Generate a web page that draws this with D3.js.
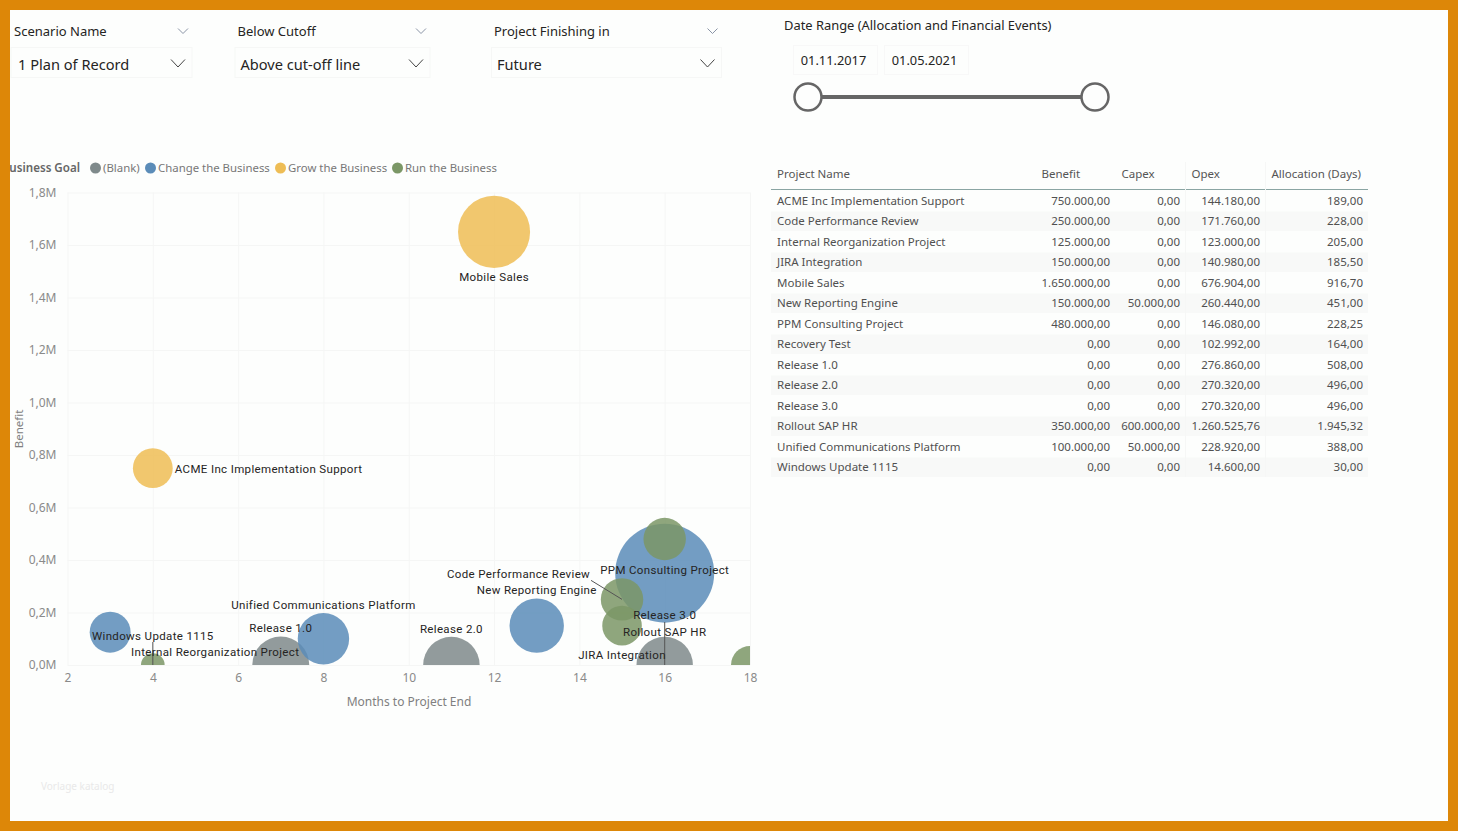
<!DOCTYPE html>
<html>
<head>
<meta charset="utf-8">
<script src="https://cdn.jsdelivr.net/npm/d3@7"></script>
<style>
html,body{margin:0;padding:0;background:#fdfefd;}
svg{display:block;}
text{font-family:"Noto Sans",sans-serif;}
</style>
</head>
<body>
<div id="chart"></div>
<script>
const projects = ["ACME Inc Implementation Support","Code Performance Review","Internal Reorganization Project","JIRA Integration","Mobile Sales","New Reporting Engine","PPM Consulting Project","Recovery Test","Release 1.0","Release 2.0","Release 3.0","Rollout SAP HR","Unified Communications Platform","Windows Update 1115"];
const benefit = [750000,250000,125000,150000,1650000,150000,480000,0,0,0,0,350000,100000,0];
const capex = [0,0,0,0,0,50000,0,0,0,0,0,600000,50000,0];
const opex = [144180,171760,123000,140980,676904,260440,146080,102992,276860,270320,270320,1260525.76,228920,14600];
const allocation = [189,228,205,185.5,916.7,451,228.25,164,508,496,496,1945.32,388,30];
const months = [4,15,3,15,12,13,16,18,7,11,16,16,8,4];
const goals = ["Grow the Business","Run the Business","Change the Business","Run the Business","Grow the Business","Change the Business","Run the Business","Run the Business","(Blank)","(Blank)","(Blank)","Change the Business","Change the Business","Run the Business"];

const goalNames = ["(Blank)","Change the Business","Grow the Business","Run the Business"];
const goalColors = ["#7f8a8b","#5b8cb8","#eebd55","#7b9766"];
const yTicks = [0,200000,400000,600000,800000,1000000,1200000,1400000,1600000,1800000];
const xTicks = [2,4,6,8,10,12,14,16,18];
const tableHeaders = ["Project Name","Benefit","Capex","Opex","Allocation (Days)"];

const width=1458, height=831;
const svg=d3.select("#chart").append("svg").attr("width",width).attr("height",height);

const x=d3.scaleLinear().domain([2,18]).range([67.5,750]);
const y=d3.scaleLinear().domain([0,1800000]).range([665,192.5]);
const r=d3.scalePow().exponent(0.5).domain([0,1945.32]).range([6.5,49.5]);
const color=d3.scaleOrdinal().domain(goalNames).range(goalColors);
const de=d3.formatLocale({decimal:",",thousands:".",grouping:[3],currency:["",""]});
const money=de.format(",.2f");
const mio=de.format(".1f");

const rows=projects.map((name,i)=>({name,benefit:benefit[i],capex:capex[i],opex:opex[i],allocation:allocation[i],months:months[i],goal:goals[i]}));

// slicers
const slicers=[
	{title:"Scenario Name",value:"1 Plan of Record",x:11,w:181},
	{title:"Below Cutoff",value:"Above cut-off line",x:235,w:195},
	{title:"Project Finishing in",value:"Future",x:491.5,w:230}
];
const slicer=svg.selectAll("g.slicer").data(slicers).enter().append("g").attr("class","slicer");
slicer.append("rect").attr("x",d=>d.x).attr("y",47.5).attr("width",d=>d.w).attr("height",30)
	.attr("fill","none").attr("stroke","#f6f7f6");
slicer.append("text").attr("x",d=>d.x+(d.x==11?3:2.5)).attr("y",36).attr("font-size",13).attr("fill","#252423").text(d=>d.title);
slicer.append("text").attr("x",d=>d.x+(d.x==11?7:5.5)).attr("y",70).attr("font-size",14.6).attr("fill","#252423").text(d=>d.value);
slicer.append("path").attr("fill","none").attr("stroke","#8a94a6").attr("stroke-width",1)
	.attr("d",d=>{let c=d.x+d.w-9;return `M${c-5},28.5L${c},33.5L${c+5},28.5`});
slicer.append("path").attr("fill","none").attr("stroke","#444").attr("stroke-width",1)
	.attr("d",d=>{let c=d.x+d.w-14;return `M${c-7},59.5L${c},67L${c+7},59.5`});

// date range
svg.append("text").attr("x",784).attr("y",30).attr("font-size",12.9).attr("fill","#252423").text("Date Range (Allocation and Financial Events)");
const dates=[{t:"01.11.2017",x:793.5,w:84},{t:"01.05.2021",x:884.5,w:84}];
svg.selectAll("rect.date").data(dates).enter().append("rect").attr("class","date")
	.attr("x",d=>d.x).attr("y",45.5).attr("width",d=>d.w).attr("height",29)
	.attr("fill","none").attr("stroke","#f8f8f8");
svg.selectAll("text.date").data(dates).enter().append("text").attr("class","date")
	.attr("x",d=>d.x+d.w/2-2).attr("y",65).attr("text-anchor","middle").attr("font-size",12.8).attr("fill","#252423").text(d=>d.t);
svg.append("line").attr("x1",808).attr("x2",1095).attr("y1",97).attr("y2",97).attr("stroke","#666").attr("stroke-width",4);
svg.selectAll("circle.handle").data([808,1095]).enter().append("circle").attr("class","handle")
	.attr("cx",d=>d).attr("cy",97).attr("r",13.5).attr("fill","#fdfefd").attr("stroke","#666").attr("stroke-width",2.5);

// legend
svg.append("text").attr("x",80).attr("y",172).attr("text-anchor","end").attr("font-size",11.6).attr("font-weight",600).attr("fill","#666").text("Business Goal");
const legendPos=[95.5,150.5,280.5,397.5];
const legend=svg.selectAll("g.legend").data(goalNames).enter().append("g").attr("class","legend");
legend.append("circle").attr("cx",(d,i)=>legendPos[i]).attr("cy",168).attr("r",5.5).attr("fill",d=>color(d));
legend.append("text").attr("x",(d,i)=>legendPos[i]+7.5).attr("y",172).attr("font-size",11.4).attr("fill","#777").text(d=>d);

// axes and grid
const xAxis=svg.append("g").attr("transform","translate(0,665)")
	.call(d3.axisBottom(x).tickValues(xTicks).tickSize(-472.5).tickPadding(8).tickFormat(d3.format("d")));
const yAxis=svg.append("g").attr("transform","translate(67.5,0)")
	.call(d3.axisLeft(y).tickValues(yTicks).tickSize(-682.5).tickPadding(11).tickFormat(d=>mio(d/1e6)+"M"));
[xAxis,yAxis].forEach(a=>{
	a.select(".domain").remove();
	a.selectAll("line").attr("stroke","#f5f6f5");
	a.selectAll("text").attr("font-size",12).attr("fill","#8a8a8a").style("font-family","'Noto Sans',sans-serif");
});
svg.append("text").attr("x",409).attr("y",706).attr("text-anchor","middle").attr("font-size",12).attr("fill","#808080").text("Months to Project End");
svg.append("text").attr("transform","translate(22.5,429) rotate(-90)").attr("text-anchor","middle").attr("font-size",11.5).attr("fill","#808080").text("Benefit");

// bubbles
svg.append("clipPath").attr("id","plot").append("rect").attr("x",x(2)).attr("y",y(1800000)).attr("width",x(18)-x(2)).attr("height",y(0)-y(1800000));
svg.append("g").attr("clip-path","url(#plot)")
	.selectAll("circle.bubble")
	.data(rows.slice().sort((a,b)=>b.allocation-a.allocation))
	.enter().append("circle").attr("class","bubble")
	.attr("cx",d=>x(d.months)).attr("cy",d=>y(d.benefit)).attr("r",d=>r(d.allocation))
	.attr("fill",d=>color(d.goal)).attr("fill-opacity",0.85);

// hand placed data labels, offsets from the bubble centre
const labelOffsets={
	"ACME Inc Implementation Support":[22,1,"start"],
	"Code Performance Review":[-103.5,-25,"middle"],
	"Internal Reorganization Project":[105,20,"middle"],
	"JIRA Integration":[0,29.5,"middle"],
	"Mobile Sales":[0,46,"middle"],
	"New Reporting Engine":[0,-35,"middle"],
	"PPM Consulting Project":[0,31,"middle"],
	"Release 1.0":[0,-36.5,"middle"],
	"Release 2.0":[0,-35.5,"middle"],
	"Release 3.0":[0,-49.5,"middle"],
	"Rollout SAP HR":[0,59,"middle"],
	"Unified Communications Platform":[0,-33,"middle"],
	"Windows Update 1115":[0,-29,"middle"]
};
const leaders=[
	{name:"Code Performance Review",dx:-31,dy:-19},
	{name:"Windows Update 1115",dx:0,dy:-23},
	{name:"Release 3.0",dx:0,dy:-43}
];
svg.selectAll("line.leader").data(leaders).enter().append("line").attr("class","leader")
	.each(function(d){
		let p=rows.find(o=>o.name==d.name);
		d3.select(this).attr("x1",x(p.months)).attr("y1",y(p.benefit)).attr("x2",x(p.months)+d.dx).attr("y2",y(p.benefit)+d.dy);
	})
	.attr("stroke","#555").attr("stroke-width",1);
svg.selectAll("text.label").data(rows.filter(d=>labelOffsets[d.name])).enter().append("text").attr("class","label")
	.attr("x",d=>x(d.months)+labelOffsets[d.name][0])
	.attr("y",d=>y(d.benefit)+labelOffsets[d.name][1]+3.5)
	.attr("text-anchor",d=>labelOffsets[d.name][2])
	.attr("font-size",11.5).attr("fill","#252423").style("font-family","Roboto,sans-serif").style("letter-spacing","0.35px")
	.text(d=>d.name);

// table
const rowY=d3.scaleBand().domain(projects).range([190.5,477.5]);
const rightEdge=[1110,1180,1260,1363];
const headLeft=[777,1041.5,1121.5,1191.5,1271.5];
svg.selectAll("rect.stripe").data(rows).enter().append("rect").attr("class","stripe")
	.attr("x",771).attr("width",597).attr("y",d=>rowY(d.name)+0.5).attr("height",rowY.bandwidth()-1)
	.attr("fill",(d,i)=>i%2?"#f8f9f8":"#fdfefd");
svg.selectAll("text.head").data(tableHeaders).enter().append("text").attr("class","head")
	.attr("x",(d,i)=>headLeft[i]).attr("y",178).attr("font-size",11.5).attr("fill","#555").text(d=>d);
svg.append("line").attr("x1",771).attr("x2",1368).attr("y1",189.5).attr("y2",189.5).attr("stroke","#8aa5a3").attr("stroke-width",1);
svg.selectAll("line.colsep").data([1185.5,1265.5]).enter().append("line").attr("class","colsep")
	.attr("x1",d=>d).attr("x2",d=>d).attr("y1",162).attr("y2",477).attr("stroke","#f6f7f6");
const tr=svg.selectAll("g.row").data(rows).enter().append("g").attr("class","row")
	.attr("transform",d=>`translate(0,${rowY(d.name)+rowY.bandwidth()/2+4})`);
tr.append("text").attr("x",777).attr("font-size",11.5).attr("fill","#505050").text(d=>d.name);
["benefit","capex","opex","allocation"].forEach((k,i)=>{
	tr.append("text").attr("x",rightEdge[i]).attr("text-anchor","end").attr("font-size",11.5).attr("fill","#505050").text(d=>money(d[k]));
});

svg.append("text").attr("x",41).attr("y",790).attr("font-size",10).attr("fill","#e9e9e9").text("Vorlage katalog");

// orange frame sits over everything so the legend title gets cut
svg.append("path").attr("fill","#dd8708").attr("fill-rule","evenodd")
	.attr("d",`M0,0H${width}V${height}H0ZM10,10V821H1448V10Z`);
</script>
</body>
</html>
